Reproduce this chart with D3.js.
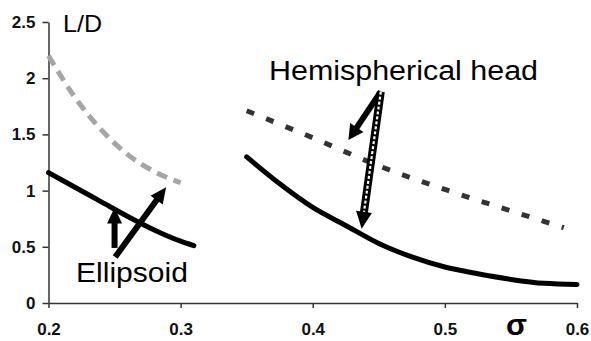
<!DOCTYPE html>
<html>
<head>
<meta charset="utf-8">
<script src="https://cdn.jsdelivr.net/npm/d3@7"></script>
<style>
  html, body { margin: 0; padding: 0; background: #fff; }
  svg { display: block; }
  text { font-family: "Liberation Sans", Arial, sans-serif; }
</style>
</head>
<body>
<svg id="chart" width="591" height="341"></svg>
<script>
// ---- data ----
const ellDashedSigma = [0.20, 0.22, 0.24, 0.26, 0.28, 0.30];
const ellDashedLD    = [2.20, 1.83, 1.54, 1.32, 1.17, 1.07];

const ellSolidSigma = [0.20, 0.22, 0.24, 0.26, 0.28, 0.30, 0.31];
const ellSolidLD    = [1.16, 1.03, 0.90, 0.77, 0.65, 0.55, 0.51];

const hemDashedSigma = [0.35, 0.40, 0.45, 0.50, 0.55, 0.59];
const hemDashedLD    = [1.71, 1.47, 1.22, 1.01, 0.82, 0.67];

const hemSolidSigma = [0.35, 0.375, 0.40, 0.425, 0.45, 0.475, 0.50, 0.525, 0.55, 0.575, 0.60];
const hemSolidLD    = [1.30, 1.06, 0.85, 0.69, 0.53, 0.41, 0.32, 0.26, 0.21, 0.175, 0.165];

const xTicks = [0.2, 0.3, 0.4, 0.5, 0.6];
const yTicks = [0, 0.5, 1, 1.5, 2, 2.5];
const xTickLabels = ["0.2", "0.3", "0.4", "0.5", "0.6"];
const yTickLabels = ["0", "0.5", "1", "1.5", "2", "2.5"];

// annotation arrows in data units: [sigmaFrom, ldFrom, sigmaTo, ldTo]
const ellArrows = [[0.250, 0.49, 0.250, 0.85], [0.2505, 0.41, 0.289, 1.03]];
const hemArrowFilled = [0.4515, 1.88, 0.427, 1.45];
const hemArrowHollow = [0.4515, 1.88, 0.437, 0.66];

// ---- drawing ----
const svg = d3.select("#chart");
const x = d3.scaleLinear().domain([0.2, 0.6]).range([48.5, 577]);
const y = d3.scaleLinear().domain([0, 2.5]).range([303, 22]);

const line = d3.line().x(d => x(d[0])).y(d => y(d[1])).curve(d3.curveMonotoneX);
const zip = (a, b) => a.map((v, i) => [v, b[i]]);

// axes
const yAxis = d3.axisLeft(y).tickValues(yTicks).tickFormat((d, i) => yTickLabels[i])
  .tickSize(6).tickSizeOuter(0).tickPadding(7);
const gy = svg.append("g").attr("transform", `translate(${x(0.2)},0)`).call(yAxis);
const xAxis = d3.axisBottom(x).tickValues(xTicks).tickFormat((d, i) => xTickLabels[i])
  .tickSize(5).tickSizeOuter(0).tickPadding(15);
const gx = svg.append("g").attr("transform", `translate(0,${y(0)})`).call(xAxis);
[gx, gy].forEach(g => {
  g.attr("font-size", 17);
  g.select(".domain").attr("stroke", "#333").attr("stroke-width", 1.5);
  g.selectAll(".tick line").attr("stroke", "#333").attr("stroke-width", 1.5);
  g.selectAll(".tick text").attr("fill", "#111").attr("font-weight", "bold");
});

// curves
svg.append("path").datum(zip(ellDashedSigma, ellDashedLD)).attr("d", line)
  .attr("fill", "none").attr("stroke", "#a6a6a6").attr("stroke-width", 5)
  .attr("stroke-dasharray", "11,7");
svg.append("path").datum(zip(ellSolidSigma, ellSolidLD)).attr("d", line)
  .attr("fill", "none").attr("stroke", "#000").attr("stroke-width", 5)
  .attr("stroke-linecap", "round");
svg.append("path").datum(zip(hemDashedSigma, hemDashedLD)).attr("d", line)
  .attr("fill", "none").attr("stroke", "#333").attr("stroke-width", 5)
  .attr("stroke-dasharray", "8,13");
svg.append("path").datum(zip(hemSolidSigma, hemSolidLD)).attr("d", line)
  .attr("fill", "none").attr("stroke", "#000").attr("stroke-width", 5)
  .attr("stroke-linecap", "round");

// arrows
function arrow(a, shaftW, headW, headL, hollow) {
  const x0 = x(a[0]), y0 = y(a[1]), x1 = x(a[2]), y1 = y(a[3]);
  const dx = x1 - x0, dy = y1 - y0, len = Math.hypot(dx, dy);
  const ux = dx / len, uy = dy / len, px = -uy, py = ux;
  const bx = x1 - ux * headL, by = y1 - uy * headL;
  svg.append("line").attr("x1", x0).attr("y1", y0).attr("x2", bx + ux).attr("y2", by + uy)
    .attr("stroke", "#000").attr("stroke-width", shaftW);
  if (hollow) {
    svg.append("line").attr("x1", x0).attr("y1", y0).attr("x2", bx).attr("y2", by)
      .attr("stroke", "#fff").attr("stroke-width", 2.2).attr("stroke-dasharray", "3,2");
  }
  svg.append("path")
    .attr("d", `M${x1},${y1}L${bx + px * headW / 2},${by + py * headW / 2}L${bx - px * headW / 2},${by - py * headW / 2}Z`)
    .attr("fill", "#000");
}
ellArrows.forEach(a => arrow(a, 6, 15, 16, false));
arrow(hemArrowFilled, 6, 16, 15, false);
arrow(hemArrowHollow, 8, 16, 17, true);

// labels
svg.append("text").attr("x", 63).attr("y", 32).attr("font-size", 24)
  .attr("textLength", 39).attr("lengthAdjust", "spacingAndGlyphs").text("L/D");
svg.append("text").attr("x", 506).attr("y", 335).attr("font-size", 30).attr("font-weight", "bold")
  .attr("textLength", 21).attr("lengthAdjust", "spacingAndGlyphs").text("σ");
svg.append("text").attr("x", 269).attr("y", 80).attr("font-size", 27)
  .attr("textLength", 269).attr("lengthAdjust", "spacingAndGlyphs").text("Hemispherical head");
svg.append("text").attr("x", 76).attr("y", 282).attr("font-size", 27)
  .attr("textLength", 112).attr("lengthAdjust", "spacingAndGlyphs").text("Ellipsoid");
</script>
</body>
</html>
